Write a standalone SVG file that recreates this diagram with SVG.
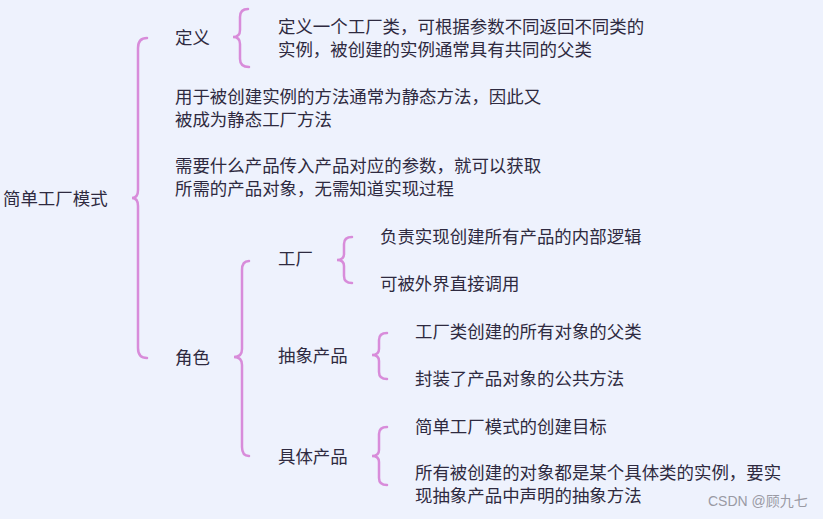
<svg xmlns="http://www.w3.org/2000/svg" width="823" height="519" viewBox="0 0 823 519">
<style>
text{font-family:"Noto Sans CJK SC","Microsoft YaHei","Liberation Sans",sans-serif;font-size:17.45px;fill:#2e2a40;dominant-baseline:central}
.b{fill:none;stroke:#d88cda;stroke-width:2.5;stroke-linecap:round}
.wm{font-family:"Liberation Sans","Noto Sans CJK SC",sans-serif;font-size:14px;fill:#9a9aa4}
</style>
<rect width="823" height="519" fill="#eef2fd"/>
<g id="connectors">
<path class="b" d="M147 38 Q138 38 138 48 L138 190 Q138 198 132 198 Q138 198 138 206 L138 348 Q138 358 147 358"/>
<path class="b" d="M248 9 Q240 9 240 17 L240 30 Q240 37 233 37 Q240 37 240 44 L240 59 Q240 67 249 67"/>
<path class="b" d="M249 261 Q242 261 242 270 L242 349 Q242 357 234 357 Q242 357 242 365 L242 447 Q242 456 249 456"/>
<path class="b" d="M352 237 Q344 237 344 244 L344 254 Q344 260 337 260 Q344 260 344 266 L344 276 Q344 283 352 283"/>
<path class="b" d="M387 333 Q379 333 379 340 L379 349 Q379 355 372 355 Q379 355 379 361 L379 372 Q379 379 387 379"/>
<path class="b" d="M387 427 Q379 427 379 434 L379 450 Q379 456 372 456 Q379 456 379 462 L379 478 Q379 485 387 485"/>
</g>
<g id="root"><text x="3" y="197.5">简单工厂模式</text></g>
<g id="def"><text x="175" y="36.5">定义</text></g>
<g id="def-text"><text x="278" y="25.5">定义一个工厂类，可根据参数不同返回不同类的</text><text x="278" y="48.5">实例，被创建的实例通常具有共同的父类</text></g>
<g id="static"><text x="175" y="95.5">用于被创建实例的方法通常为静态方法，因此又</text><text x="175" y="118.5">被成为静态工厂方法</text></g>
<g id="param"><text x="175" y="164.5">需要什么产品传入产品对应的参数，就可以获取</text><text x="175" y="187.5">所需的产品对象，无需知道实现过程</text></g>
<g id="role"><text x="175" y="356.5">角色</text></g>
<g id="factory"><text x="278" y="257.5">工厂</text></g>
<g id="factory-1"><text x="380" y="235.5">负责实现创建所有产品的内部逻辑</text></g>
<g id="factory-2"><text x="380" y="282.5">可被外界直接调用</text></g>
<g id="abstract"><text x="278" y="354.5">抽象产品</text></g>
<g id="abstract-1"><text x="415" y="330.5">工厂类创建的所有对象的父类</text></g>
<g id="abstract-2"><text x="415" y="377.5">封装了产品对象的公共方法</text></g>
<g id="concrete"><text x="278" y="455.5">具体产品</text></g>
<g id="concrete-1"><text x="415" y="425.5">简单工厂模式的创建目标</text></g>
<g id="concrete-2"><text x="415" y="471.5">所有被创建的对象都是某个具体类的实例，要实</text><text x="415" y="494.5">现抽象产品中声明的抽象方法</text></g>
<text class="wm" x="708" y="501">CSDN @顾九七</text>
</svg>
